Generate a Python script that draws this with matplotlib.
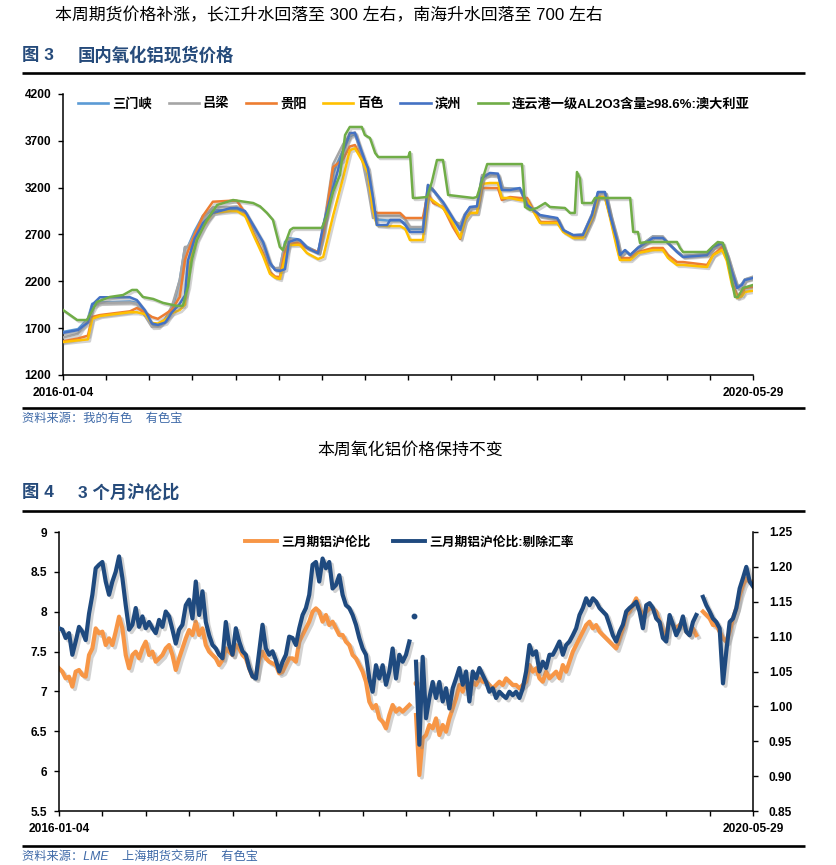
import numpy as np
import pandas as pd
import matplotlib
matplotlib.use("Agg")
import matplotlib.pyplot as plt
import matplotlib.patheffects as pe
from matplotlib.lines import Line2D

FAM = ['Liberation Sans', 'Noto Sans CJK SC', 'DejaVu Sans']
plt.rcParams['font.family'] = FAM
plt.rcParams['axes.unicode_minus'] = False
nan = np.nan

START, END = '2016-01-04', '2020-05-29'

# ---------------- 图3 国内氧化铝现货价格 ----------------
days_main = [0, 35, 58, 68, 86, 156, 172, 191, 207, 221, 238, 254, 272, 284, 291,
             307, 326, 349, 389, 405, 424, 443, 466, 482, 494, 505, 517, 526, 545, 552,
             568, 594, 606, 629, 652, 668, 680, 696, 710, 722, 731, 755, 762, 785, 797,
             808, 838, 850, 862, 885, 908, 925, 936, 948, 964, 976, 994, 1013, 1022, 1041,
             1064, 1081, 1111, 1151, 1165, 1188, 1211, 1232, 1246, 1262, 1274, 1290, 1297, 1309, 1321,
             1339, 1374, 1397, 1409, 1430, 1444, 1500, 1514, 1535, 1546, 1558, 1570, 1581, 1588, 1607]

sanmenxia = [1660, 1690, 1800, 1960, 1975, 1985, 1970, 1860, 1735, 1730,
             1790, 1900, 2214, 2560, 2570, 2740, 2900, 2960, 2960, 2965,
             2930, 2790, 2600, 2380, 2330, 2330, 2620, 2660, 2650, 2640,
             2570, 2510, 2760, 3350, 3600, 3750, 3770, 3560, 3300, 2950,
             2860, 2850, 2850, 2850, 2820, 2760, 2760, 3200, 3170, 3030,
             2860, 2780, 2910, 2990, 3000, 3320, 3340, 3340, 3190, 3190,
             3190, 3010, 2900, 2870, 2740, 2690, 2700, 2910, 3150, 3150,
             2900, 2630, 2480, 2530, 2480, 2560, 2680, 2670, 2610, 2520,
             2470, 2490, 2570, 2610, 2480, 2300, 2140, 2170, 2220, 2240]

lvliang = [1600, 1640, 1800, 1930, 1970, 1975, 1960, 1830, 1713, 1715,
           1800, 1940, 2214, 2567, 2570, 2700, 2880, 2990, 2995, 3000,
           2930, 2780, 2580, 2380, 2340, 2345, 2600, 2650, 2640, 2630,
           2560, 2510, 2750, 3450, 3660, 3760, 3790, 3520, 3200, 2876,
           2900, 2900, 2900, 2900, 2860, 2780, 2780, 3229, 3180, 3020,
           2850, 2810, 2920, 2980, 3000, 3335, 3340, 3330, 3200, 3190,
           3180, 3020, 2900, 2870, 2740, 2690, 2700, 2920, 3140, 3150,
           2900, 2640, 2480, 2530, 2480, 2560, 2680, 2680, 2610, 2520,
           2470, 2490, 2570, 2600, 2480, 2300, 2130, 2170, 2220, 2250]

guiyang = [1560, 1590, 1620, 1820, 1840, 1880, 1915, 1870, 1820, 1800,
           1850, 1900, 2033, 2428, 2520, 2700, 2900, 3050, 3060, 3060,
           2930, 2716, 2500, 2300, 2250, 2246, 2520, 2600, 2610, 2600,
           2556, 2513, 2700, 3420, 3500, 3640, 3655, 3500, 3410, 2962,
           2930, 2930, 2930, 2930, 2876, 2876, 2876, 3143, 3036, 2994,
           2780, 2652, 2855, 2930, 2930, 3196, 3196, 3196, 3068, 3100,
           3090, 3090, 2834, 2834, 2748, 2673, 2673, 2876, 3100, 3100,
           2900, 2588, 2449, 2449, 2449, 2513, 2556, 2556, 2481, 2406,
           2406, 2375, 2481, 2567, 2450, 2193, 2054, 2054, 2129, 2140]

baise = [1552, 1570, 1580, 1800, 1830, 1870, 1870, 1850, 1755, 1750,
         1790, 1860, 1894, 1950, 2300, 2620, 2780, 2930, 2951, 2950,
         2900, 2700, 2470, 2280, 2240, 2225, 2450, 2588, 2590, 2588,
         2502, 2438, 2460, 2900, 3300, 3600, 3620, 3495, 3356, 2962,
         2801, 2790, 2790, 2790, 2760, 2641, 2641, 3100, 3060, 2983,
         2823, 2663, 2850, 2930, 2930, 3240, 3250, 3250, 3090, 3090,
         3068, 3060, 2823, 2823, 2727, 2663, 2663, 2876, 3100, 3100,
         2880, 2556, 2428, 2428, 2428, 2502, 2534, 2534, 2450, 2375,
         2375, 2353, 2480, 2534, 2420, 2161, 2022, 2040, 2086, 2100]

binzhou = [1650, 1680, 1760, 1950, 2030, 2030, 2000, 1890, 1750, 1735,
           1760, 1870, 1960, 2050, 2420, 2660, 2820, 2930, 2980, 2983,
           2950, 2800, 2620, 2400, 2320, 2310, 2330, 2620, 2650, 2640,
           2560, 2500, 2800, 3196, 3580, 3784, 3784, 3580, 3410, 3090,
           2801, 2801, 2855, 2855, 2801, 2727, 2727, 3229, 3175, 3047,
           2876, 2748, 2908, 2994, 3000, 3303, 3357, 3350, 3175, 3175,
           3196, 3015, 2908, 2876, 2748, 2695, 2695, 2908, 3154, 3154,
           2908, 2641, 2481, 2534, 2481, 2556, 2663, 2663, 2609, 2513,
           2460, 2480, 2567, 2609, 2481, 2300, 2129, 2161, 2214, 2236]

days_lyg = [0, 33, 56, 79, 109, 140, 161, 172, 186, 210, 233, 266, 279, 291, 300,
            312, 335, 359, 396, 443, 459, 475, 489, 505, 512, 529, 536, 603, 615, 629,
            645, 657, 668, 696, 703, 715, 727, 734, 804, 808, 815, 824, 848, 859, 871,
            885, 897, 955, 964, 988, 1069, 1076, 1088, 1104, 1123, 1134, 1169, 1181, 1192, 1197,
            1204, 1209, 1232, 1239, 1321, 1328, 1339, 1344, 1360, 1430, 1437, 1444, 1500, 1512, 1525,
            1537, 1549, 1565, 1572, 1584, 1607]
lianyungang = [1894, 1787, 1787, 1980, 2033, 2054, 2108, 2108, 2033, 2012, 1970, 1937, 1940, 2140, 2428,
               2641, 2855, 3015, 3068, 3036, 3000, 2930, 2855, 2567, 2534, 2748, 2770, 2770, 2908, 3154,
               3335, 3762, 3848, 3848, 3762, 3730, 3570, 3527, 3527, 3580, 3090, 3090, 3100, 3260, 3495,
               3495, 3122, 3090, 3100, 3452, 3452, 2994, 2962, 2983, 3036, 2994, 2983, 2930, 2930, 3367,
               3300, 3036, 3036, 3090, 3090, 2727, 2727, 2609, 2620, 2620, 2556, 2513, 2513, 2567, 2620,
               2610, 2406, 2033, 2033, 2129, 2161]

labels3 = ['三门峡', '吕梁', '贵阳', '百色', '滨州', '连云港一级AL2O3含量≥98.6%:澳大利亚']
colors3 = ['#5B9BD5', '#A5A5A5', '#ED7D31', '#FFC000', '#4472C4', '#70AD47']
yticks3 = [1200, 1700, 2200, 2700, 3200, 3700, 4200]

# ---------------- 图4 3个月沪伦比 ----------------
ratio_shlme = [
    7.290, 7.248, 7.164, 7.185, 7.060, 7.248, 7.269, 7.206, 7.185, 7.457,
    7.540, 7.791, 7.729, 7.750, 7.582, 7.666, 7.582, 7.750, 7.938, 7.791,
    7.457, 7.290, 7.457, 7.499, 7.415, 7.540, 7.624, 7.457, 7.499, 7.373,
    7.415, 7.457, 7.540, 7.582, 7.457, 7.269, 7.415, 7.540, 7.666, 7.770,
    7.708, 7.875, 7.708, 7.791, 7.582, 7.499, 7.457, 7.415, 7.331, 7.394,
    7.540, 7.499, 7.457, 7.582, 7.540, 7.457, 7.415, 7.290, 7.185, 7.185,
    7.394, 7.499, 7.415, 7.373, 7.352, 7.331, 7.227, 7.248, 7.331, 7.415,
    7.415, 7.373,
    7.624, 7.708, 7.791, 7.875, 8.001, 8.042, 8.001, 7.875, 7.959, 7.833,
    7.875, 7.791, 7.708, 7.708, 7.624, 7.582, 7.457, 7.415, 7.331, 7.248,
    7.122, 6.871, 6.788, 6.830, 6.662, 6.620, 6.537, 6.704, 6.830, 6.746,
    6.788, 6.746, 6.788, 6.830, nan, 6.704, 5.951, 6.411, 6.453, 6.579,
    6.537, 6.662, 6.453, 6.579, 6.495, 6.662, 6.788, 6.913, 7.081, 6.997,
    7.122, 6.997, 7.122, 7.081, 7.164, 7.122, 7.122, 7.081, 7.039, 7.081,
    7.122, 7.081, 7.164, 7.122, 7.081, 7.081, 7.039, 7.081, 7.122,
    7.331, 7.248, 7.290, 7.164, 7.122, 7.248, 7.164, 7.206, 7.248, 7.164,
    7.331, 7.248, 7.373, 7.499, 7.582, 7.666, 7.750, 7.833, 7.875, 7.791,
    7.833, 7.750, 7.708, 7.666, 7.624, 7.582, 7.540, 7.666, 7.791, 7.959,
    8.001, 8.084, 8.168, 8.042, 7.959, 8.001, 8.042, 8.042, 8.001, 7.875,
    7.750, 7.708, 7.917, 7.833, 7.791, 7.833, 7.875, 7.750, 7.708, 7.791,
    7.708, nan, 8.001, 7.959, 7.917, 7.833, 7.833, 7.750, 7.666, 7.624,
    7.750, 7.917, 8.042, 8.210, 8.335, 8.419, 8.377, 8.377]

ratio_ex_fx = [
    1.112, 1.110, 1.098, 1.105, 1.074, 1.093, 1.114, 1.107, 1.095, 1.133,
    1.160, 1.198, 1.203, 1.207, 1.179, 1.160, 1.179, 1.193, 1.215, 1.184,
    1.145, 1.110, 1.117, 1.141, 1.114, 1.129, 1.112, 1.121, 1.112, 1.105,
    1.124, 1.114, 1.136, 1.129, 1.110, 1.090, 1.110, 1.117, 1.145, 1.153,
    1.126, 1.179, 1.131, 1.165, 1.121, 1.102, 1.088, 1.083, 1.074, 1.069,
    1.121, 1.088, 1.074, 1.112, 1.093, 1.079, 1.074, 1.055, 1.043, 1.040,
    1.079, 1.117, 1.083, 1.074, 1.079, 1.066, 1.050, 1.064, 1.074, 1.100,
    1.098, 1.088,
    1.112, 1.131, 1.141, 1.160, 1.203, 1.207, 1.179, 1.212, 1.198, 1.207,
    1.169, 1.174, 1.188, 1.160, 1.145, 1.141, 1.131, 1.117, 1.098, 1.083,
    1.074, 1.040, 1.021, 1.059, 1.040, 1.059, 1.031, 1.050, 1.083, 1.040,
    1.074, 1.064, 1.074, 1.093, nan, 1.064, 0.945, 1.071, 0.983, 1.012,
    1.035, 1.012, 1.035, 1.007, 1.026, 0.997, 1.026, 1.040, 1.055, 1.031,
    1.050, 1.007, 1.050, 1.040, 1.055, 1.045, 1.035, 1.021, 1.026, 1.012,
    1.021, 1.016, 1.012, 1.021, 1.016, 1.021, 1.012, 1.026, 1.050,
    1.088, 1.074, 1.079, 1.050, 1.064, 1.055, 1.074, 1.074, 1.083, 1.093,
    1.074, 1.088, 1.093, 1.102, 1.112, 1.131, 1.141, 1.155, 1.145, 1.155,
    1.150, 1.141, 1.136, 1.131, 1.117, 1.102, 1.093, 1.107, 1.117, 1.136,
    1.141, 1.145, 1.150, 1.136, 1.112, 1.145, 1.148, 1.141, 1.126, 1.121,
    1.098, 1.093, 1.131, 1.117, 1.102, 1.112, 1.129, 1.107, 1.102, 1.121,
    1.131, nan, 1.157, 1.145, 1.136, 1.126, 1.121, 1.112, 1.033, 1.079,
    1.121, 1.126, 1.141, 1.169, 1.184, 1.200, 1.179, 1.172]

iso_dates_orange = ['2018-04-09']
iso_orange = [7.11]
iso_dates_blue = ['2018-04-05']
iso_blue = [1.130]

labels4 = ['三月期铝沪伦比', '三月期铝沪伦比:剔除汇率']
colors4 = ['#F79646', '#1F4A7F']
yticks4_left = [5.5, 6, 6.5, 7, 7.5, 8, 8.5, 9]
yticks4_right = [0.85, 0.90, 0.95, 1.00, 1.05, 1.10, 1.15, 1.20, 1.25]

# ---------------- layout ----------------
W, H = 837, 865
fig = plt.figure(figsize=(W / 100, H / 100), dpi=100)
fig.patch.set_facecolor('white')


def FX(px):
    return px / W


def FY(py):
    return 1 - py / H


def rule(py, x0=22, x1=805, lw=1.9):
    fig.add_artist(Line2D([FX(x0), FX(x1)], [FY(py), FY(py)], transform=fig.transFigure,
                          color='black', lw=lw, solid_capstyle='butt'))


TITLE_C = '#264B7B'
SRC_C = '#3F6AA8'

fig.text(FX(55), FY(15), '本周期货价格补涨，长江升水回落至 300 左右，南海升水回落至 700 左右',
         fontsize=12.2, ha='left', va='center', color='black')
fig.text(FX(22), FY(55), '图 3', fontsize=12.5, fontweight='bold', color=TITLE_C, ha='left', va='center')
fig.text(FX(78), FY(55), '国内氧化铝现货价格', fontsize=12.5, fontweight='bold', color=TITLE_C,
         ha='left', va='center')
rule(73)
rule(408)
fig.text(FX(22), FY(419), '资料来源：我的有色    有色宝', fontsize=8.8, color=SRC_C, ha='left',
         va='center', style='italic')
fig.text(FX(410), FY(450), '本周氧化铝价格保持不变', fontsize=12.2, ha='center', va='center', color='black')
fig.text(FX(22), FY(492), '图 4', fontsize=12.5, fontweight='bold', color=TITLE_C, ha='left', va='center')
fig.text(FX(78), FY(492), '3 个月沪伦比', fontsize=12.5, fontweight='bold', color=TITLE_C,
         ha='left', va='center')
rule(511)
rule(846)
fig.text(FX(22), FY(857), '资料来源：LME    上海期货交易所    有色宝', fontsize=8.8, color=SRC_C,
         ha='left', va='center', style='italic')

xticks = pd.date_range(START, END, periods=17)
xticklabels = [START] + [''] * 15 + [END]


def style_ticks(ax, which_sides):
    ax.tick_params(axis='both', direction='out', length=3.5, width=1.0, labelsize=8.6, pad=5,
                   colors='black')
    for lab in ax.get_xticklabels() + ax.get_yticklabels():
        lab.set_fontweight('bold')
    for side in ['top', 'right', 'left', 'bottom']:
        ax.spines[side].set_visible(side in which_sides)
        ax.spines[side].set_linewidth(1.1)


# ---- chart 3 ----
ax1 = fig.add_axes([FX(63), FY(375), 690 / W, 281 / H])
t_main = pd.Timestamp(START) + pd.to_timedelta(days_main, unit='D')
t_lyg = pd.Timestamp(START) + pd.to_timedelta(days_lyg, unit='D')
series3 = [sanmenxia, lvliang, guiyang, baise, binzhou]
shadow1 = [pe.SimpleLineShadow(offset=(1.4, -1.4), shadow_color='#808080', alpha=0.35), pe.Normal()]
for vals, col in zip(series3, colors3[:5]):
    ax1.plot(t_main, vals, color=col, lw=1.8, path_effects=shadow1, zorder=3)
ax1.plot(t_lyg, lianyungang, color=colors3[5], lw=1.8, path_effects=shadow1, zorder=3)
ax1.set_xlim(pd.Timestamp(START), pd.Timestamp(END))
ax1.set_ylim(1200, 4200)
ax1.set_yticks(yticks3)
ax1.set_yticklabels([str(v) for v in yticks3])
ax1.set_xticks(xticks)
ax1.set_xticklabels(xticklabels)
style_ticks(ax1, ['left', 'bottom'])
h3 = [Line2D([], [], color=c, lw=1.9) for c in colors3]
ax1.legend(h3, labels3, ncol=6, loc='center left', bbox_to_anchor=(0.0217, 0.964), frameon=False,
           handlelength=2.3, handletextpad=0.3, columnspacing=1.25, borderpad=0, borderaxespad=0,
           prop={'family': FAM, 'weight': 'bold', 'size': 9.5})

# ---- chart 4 ----
ax2 = fig.add_axes([FX(59), FY(811), 694 / W, 279 / H])
ax2r = ax2.twinx()
t2 = pd.date_range(START, END, periods=len(ratio_shlme))
shadow2 = [pe.SimpleLineShadow(offset=(1.8, -1.8), shadow_color='#808080', alpha=0.35), pe.Normal()]
ax2.plot(t2, ratio_shlme, color=colors4[0], lw=3.0, path_effects=shadow2, solid_joinstyle='round')
ax2.plot(pd.to_datetime(iso_dates_orange), iso_orange, 'o', color=colors4[0], ms=3.2)
ax2r.plot(t2, ratio_ex_fx, color=colors4[1], lw=3.0, path_effects=shadow2, solid_joinstyle='round')
ax2r.plot(pd.to_datetime(iso_dates_blue), iso_blue, 'o', color=colors4[1], ms=3.2)
ax2.set_xlim(pd.Timestamp(START), pd.Timestamp(END))
ax2.set_ylim(5.5, 9)
ax2.set_yticks(yticks4_left)
ax2.set_yticklabels([('%g' % v) for v in yticks4_left])
ax2r.set_ylim(0.85, 1.25)
ax2r.set_yticks(yticks4_right)
ax2r.set_yticklabels(['%.2f' % v for v in yticks4_right])
ax2.set_xticks(xticks)
ax2.set_xticklabels(xticklabels)
style_ticks(ax2, ['left', 'bottom'])
style_ticks(ax2r, ['right'])
ax2r.tick_params(axis='y', pad=8)
h4 = [Line2D([], [], color=c, lw=2.8) for c in colors4]
ax2r.legend(h4, labels4, ncol=2, loc='center left', bbox_to_anchor=(0.268, 0.964), frameon=False,
            handlelength=2.5, handletextpad=0.3, columnspacing=1.8, borderpad=0, borderaxespad=0,
            prop={'family': FAM, 'weight': 'bold', 'size': 9.2})

fig.savefig('out.png', dpi=100, facecolor='white')
